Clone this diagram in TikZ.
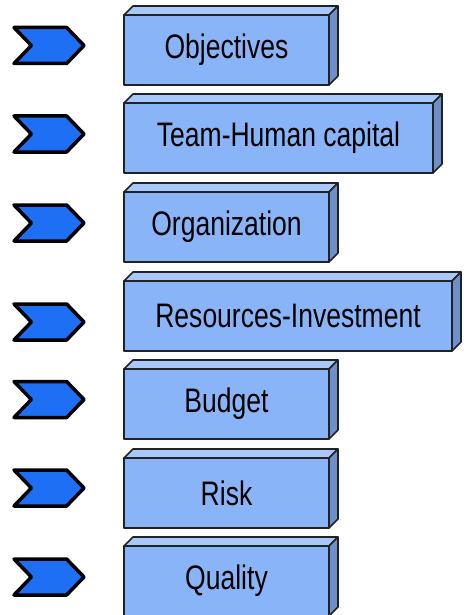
\documentclass[tikz,border=0pt]{standalone}
\usepackage{fontspec}
\setmainfont{Liberation Sans}
\usetikzlibrary{shapes.symbols}
\definecolor{frontc}{HTML}{8AB4F8}
\definecolor{topc}{HTML}{A8C7FA}
\definecolor{sidec}{HTML}{6E8FC8}
\definecolor{chevc}{HTML}{1F6FF5}
\definecolor{edgec}{HTML}{222222}
\tikzset{
  frontbox/.style={draw=edgec, line width=2pt, fill=frontc, minimum height=70pt,
    inner sep=0pt, outer sep=0pt, anchor=north west, line join=round,
    font=\fontsize{34}{34}\selectfont},
  topface/.style={draw=edgec, line width=1.6pt, fill=topc, line join=round},
  sideface/.style={draw=edgec, line width=1.6pt, fill=sidec, line join=round},
  chev/.style={signal, signal to=east, signal from=west, signal pointer angle=92,
    draw=black, line width=3.5pt, fill=chevc, minimum width=70pt, minimum height=36pt,
    inner sep=0pt, outer sep=0pt, line join=round}
}
\newcommand\boxrow[5]{%
  \node[frontbox, minimum width=#3pt] (#1) at (124,#2) {\raisebox{-2pt}{\scalebox{0.78}[1]{#4}}};
  \draw[topface] (#1.north west) -- ++(9,-9) -- ([shift={(9,-9)}]#1.north east) -- (#1.north east) -- cycle;
  \draw[sideface] (#1.north east) -- ++(9,-9) -- ([shift={(9,-9)}]#1.south east) -- (#1.south east) -- cycle;
  \node[chev] (#1c) at (49,#5) {};
}
\begin{document}
\begin{tikzpicture}[x=1pt,y=-1pt]
\useasboundingbox (0,0) rectangle (463,615);
\boxrow{obj}{15}{205}{Objectives}{45.5}
\boxrow{team}{103}{309}{Team-Human capital}{134}
\boxrow{org}{192}{205}{Organization}{223}
\boxrow{res}{281}{328}{Resources-Investment}{322}
\boxrow{bud}{369}{205}{Budget}{399.5}
\boxrow{risk}{458}{205}{Risk}{488}
\boxrow{qual}{546}{205}{Quality}{577}
\end{tikzpicture}
\end{document}
